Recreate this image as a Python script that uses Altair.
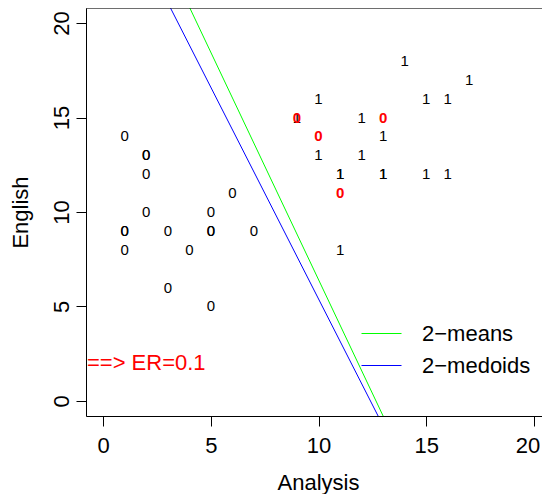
import altair as alt
import pandas as pd

FONT = "Liberation Sans"

# class 0 points (black); repeated entries are overplotted points
zero_x = [1, 2, 2, 2, 6, 2, 5, 1, 1, 3, 5, 5, 7, 1, 4, 3, 5]
zero_y = [14, 13, 13, 12, 11, 10, 10, 9, 9, 9, 9, 9, 9, 8, 8, 6, 5]

# class 1 points (black)
one_x = [14, 17, 10, 15, 16, 9, 12, 13, 10, 12, 11, 11, 13, 13, 15, 16, 11]
one_y = [18, 17, 16, 16, 16, 15, 15, 14, 13, 13, 12, 12, 12, 12, 12, 12, 8]

# misclassified class 0 points (red)
err_x = [9, 13, 10, 11]
err_y = [15, 15, 14, 11]

# separating lines: y = a + b*x
line_names = ["2\u2212means", "2\u2212medoids"]
line_a = [30.48, 27.80]
line_b = [-2.406, -2.24]
line_colors = ["#00FF00", "#0000FF"]

# annotation
note_x = [2]
note_y = [2]
note_text = ["==> ER=0.1"]

x_ticks = [0, 5, 10, 15, 20]
y_ticks = [0, 5, 10, 15, 20]
# visible part of the plot region (the right edge is cut by the page)
x_dom = [-0.8, 20.38]
y_dom = [-0.8, 20.8]

W, H = 456, 408

pts = pd.DataFrame(
    [{"x": a, "y": b, "lab": "0", "col": "black"} for a, b in zip(zero_x, zero_y)]
    + [{"x": a, "y": b, "lab": "1", "col": "black"} for a, b in zip(one_x, one_y)]
)
err = pd.DataFrame({"x": err_x, "y": err_y, "lab": ["0"] * len(err_x),
                    "col": ["#FF0000"] * len(err_x)})

rows = []
for n, a, b in zip(line_names, line_a, line_b):
    for xv in x_dom:
        rows.append({"x": xv, "y": a + b * xv, "series": n})
lines_df = pd.DataFrame(rows)

note_df = pd.DataFrame({"x": note_x, "y": note_y, "t": note_text})

xs = alt.Scale(domain=x_dom, nice=False, zero=False)
ys = alt.Scale(domain=y_dom, nice=False, zero=False)

x_axis = alt.Axis(
    values=x_ticks, title="Analysis", grid=False, domainColor="black",
    tickColor="black", tickSize=10, labelFontSize=22, labelFont=FONT,
    labelColor="black", labelPadding=9, labelFlush=10, labelFlushOffset=6,
    labelOverlap=False, labelBound=False,
    titleFontSize=22, titleFont=FONT, titleFontWeight="normal", titleColor="black",
    titleX=232, titleY=73, titleBaseline="alphabetic", titleAlign="center",
)
y_axis = alt.Axis(
    values=y_ticks, title="English", grid=False, domainColor="black",
    tickColor="black", tickSize=10, labelFontSize=22, labelFont=FONT,
    labelColor="black", labelPadding=8, labelAngle=270, labelAlign="center",
    labelBaseline="alphabetic", labelFlush=False, labelOverlap=False,
    titleFontSize=22, titleFont=FONT, titleFontWeight="normal", titleColor="black",
    titleAngle=270, titleX=-59, titleY=204, titleBaseline="alphabetic", titleAlign="center",
)

points = alt.Chart(pts).mark_text(font=FONT, fontSize=15).encode(
    x=alt.X("x:Q", scale=xs, axis=x_axis),
    y=alt.Y("y:Q", scale=ys, axis=y_axis),
    text="lab:N",
    color=alt.Color("col:N", scale=None),
)

errors = alt.Chart(err).mark_text(font=FONT, fontSize=15, fontWeight="bold").encode(
    x=alt.X("x:Q", scale=xs),
    y=alt.Y("y:Q", scale=ys),
    text="lab:N",
    color=alt.Color("col:N", scale=None),
)

lines = alt.Chart(lines_df).mark_line(clip=True, strokeWidth=1).encode(
    x=alt.X("x:Q", scale=xs),
    y=alt.Y("y:Q", scale=ys),
    detail="series:N",
    stroke=alt.Stroke(
        "series:N",
        scale=alt.Scale(domain=line_names, range=line_colors),
        legend=alt.Legend(
            orient="none", legendX=275, legendY=305, title=None,
            symbolType="stroke", symbolSize=1600, symbolStrokeWidth=1,
            symbolOpacity=1,
            labelFontSize=22, labelFont=FONT, labelColor="black",
            labelOffset=20, rowPadding=-12, padding=0,
        ),
    ),
)

note = alt.Chart(note_df).mark_text(
    font=FONT, fontSize=22, color="#FF0000", align="center", baseline="middle", clip=True
).encode(
    x=alt.X("x:Q", scale=xs),
    y=alt.Y("y:Q", scale=ys),
    text="t:N",
)

frame_top = alt.Chart(note_df).mark_rule(color="black", strokeWidth=1).encode(
    x=alt.value(0), x2=alt.value(W), y=alt.value(0)
)

chart = alt.layer(points, errors, lines, note, frame_top).properties(
    width=W, height=H,
    autosize=alt.AutoSizeParams(type="none"),
    padding={"left": 78, "top": 0, "right": 0, "bottom": 78},
).configure_view(stroke=None).configure(font=FONT, background="white")

chart.save("out.html", embed_options={"renderer": "svg", "actions": False})
